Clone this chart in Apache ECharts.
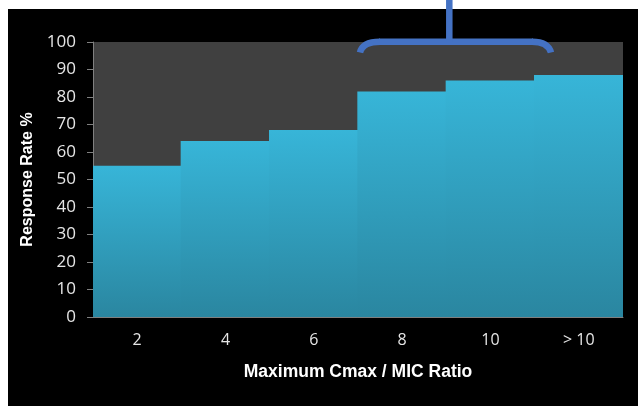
<!DOCTYPE html>
<html>
<head>
<meta charset="utf-8">
<script src="https://cdn.jsdelivr.net/npm/echarts@6/dist/echarts.min.js"></script>
<style>
  html, body { margin: 0; padding: 0; background: #ffffff; }
  #panel { position: absolute; left: 8px; top: 9px; width: 630px; height: 397px; background: #000000; }
  #main { position: absolute; left: 0; top: 0; width: 638px; height: 406px; }
</style>
</head>
<body>
<div id="panel"></div>
<div id="main"></div>
<script>
// Peak concentration / MIC ratio groups and the clinical response rate in each
const ratioLabels = ['2', '4', '6', '8', '10', '> 10'];
const responseRate = [55, 64, 68, 82, 86, 88];
const yTicks = { min: 0, max: 100, step: 10 };

const chart = echarts.init(document.getElementById('main'), null, { renderer: 'canvas' });

const barFill = {
  type: 'linear', x: 0, y: 0, x2: 0, y2: 1,
  colorStops: [
    { offset: 0, color: '#37B5D8' },
    { offset: 1, color: '#2A86A0' }
  ]
};

const bracketStyle = { fill: null, stroke: '#4472C4', lineWidth: 6.5, lineCap: 'butt' };

const option = {
  backgroundColor: 'transparent',
  animation: false,
  grid: {
    left: 93, right: 15, top: 42, bottom: 89,
    show: true, backgroundColor: '#404040', borderWidth: 0
  },
  xAxis: {
    type: 'category',
    data: ratioLabels,
    name: 'Maximum Cmax / MIC Ratio',
    nameLocation: 'middle',
    nameGap: 46,
    nameTextStyle: {
      color: '#ffffff', fontFamily: 'Liberation Sans', fontWeight: 'bold', fontSize: 17.5
    },
    axisLine: { show: true, lineStyle: { color: '#808080', width: 1 } },
    axisTick: { show: false },
    axisLabel: {
      color: '#E6E6E6', fontFamily: 'Open Sans', fontSize: 16, margin: 15
    },
    splitLine: { show: false }
  },
  yAxis: {
    type: 'value',
    min: yTicks.min,
    max: yTicks.max,
    interval: yTicks.step,
    name: 'Response Rate %',
    nameLocation: 'middle',
    nameGap: 56,
    nameTextStyle: {
      color: '#ffffff', fontFamily: 'Liberation Sans', fontWeight: 'bold', fontSize: 16
    },
    axisLine: { show: true, lineStyle: { color: '#808080', width: 1 } },
    axisTick: { show: true, inside: false, length: 6, lineStyle: { color: '#808080' } },
    axisLabel: {
      color: '#E6E6E6', fontFamily: 'Open Sans', fontSize: 17, margin: 17
    },
    splitLine: { show: false }
  },
  series: [{
    type: 'bar',
    data: responseRate,
    // slightly wider than the band so neighbouring bars meet without a seam
    barWidth: '101.5%',
    itemStyle: { color: barFill, borderWidth: 0 }
  }],
  graphic: [
    // bracket grouping the higher-ratio bars
    {
      type: 'bezierCurve', z: 100,
      shape: { x1: 360, y1: 52.5, cpx1: 362.5, cpy1: 41.7, x2: 380, y2: 41.7 },
      style: bracketStyle
    },
    {
      type: 'line', z: 100,
      shape: { x1: 379, y1: 41.7, x2: 533, y2: 41.7 },
      style: bracketStyle
    },
    {
      type: 'bezierCurve', z: 100,
      shape: { x1: 532, y1: 41.7, cpx1: 548, cpy1: 41.7, x2: 551, y2: 52.5 },
      style: bracketStyle
    },
    {
      type: 'line', z: 100,
      shape: { x1: 449.3, y1: 0, x2: 449.3, y2: 42 },
      style: { stroke: '#4472C4', lineWidth: 6.5 }
    }
  ]
};

chart.setOption(option);
</script>
</body>
</html>
